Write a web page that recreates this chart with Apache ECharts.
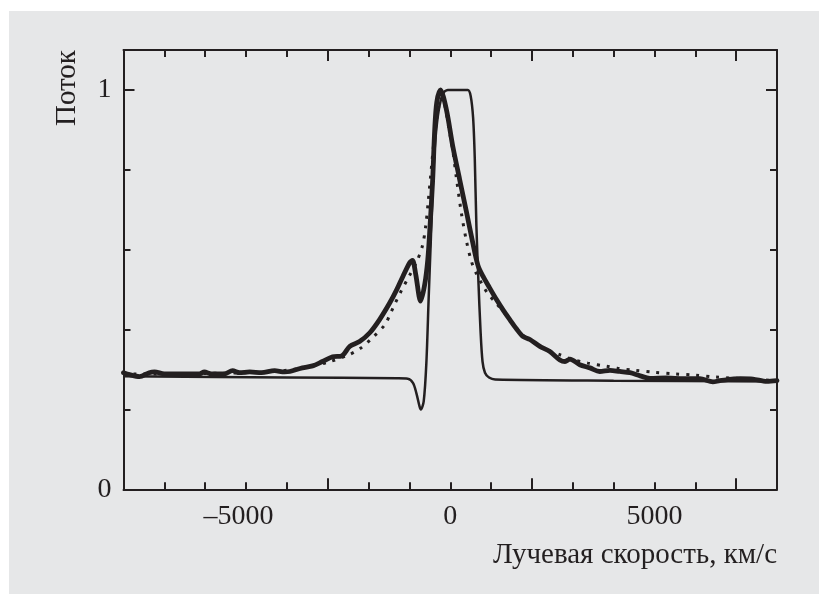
<!DOCTYPE html>
<html>
<head>
<meta charset="utf-8">
<script src="https://cdn.jsdelivr.net/npm/echarts@6/dist/echarts.min.js"></script>
<style>
  html, body { margin: 0; padding: 0; background: #ffffff; }
  #panel { position: absolute; left: 9px; top: 11px; width: 810px; height: 583px; background: #e6e7e8; }
  #chart { position: absolute; left: 0; top: 0; width: 819px; height: 594px; }
</style>
</head>
<body>
<div id="panel"></div>
<div id="chart"></div>
<script>
// Observed line profile: [radial velocity km/s, normalised flux]
const observed = [
  [-8000,0.292],[-7850,0.287],[-7610,0.282],[-7370,0.292],[-7240,0.294],[-7000,0.289],
  [-6500,0.289],[-6140,0.289],[-6020,0.294],[-5850,0.289],[-5530,0.289],[-5330,0.297],
  [-5160,0.292],[-4910,0.294],[-4620,0.292],[-4300,0.297],[-4060,0.294],[-3930,0.295],
  [-3620,0.304],[-3370,0.309],[-3130,0.320],[-2880,0.332],[-2660,0.334],[-2460,0.358],
  [-2220,0.370],[-1970,0.392],[-1730,0.425],[-1480,0.467],[-1310,0.500],[-1160,0.533],
  [-990,0.568],[-925,0.573],[-845,0.538],[-725,0.471],[-625,0.513],[-550,0.575],
  [-500,0.650],[-430,0.776],[-380,0.901],[-330,0.969],[-240,1.000],[-95,0.951],
  [60,0.860],[230,0.776],[400,0.693],[550,0.618],[680,0.560],[804,0.533],[960,0.505],
  [1132,0.475],[1300,0.448],[1458,0.425],[1620,0.402],[1777,0.383],[1950,0.375],[2194,0.358],
  [2439,0.345],[2684,0.324],[2810,0.320],[2930,0.326],[3170,0.312],[3420,0.304],
  [3660,0.295],[3910,0.298],[4150,0.295],[4400,0.292],[4650,0.284],[4890,0.278],
  [5300,0.279],[5710,0.277],[6110,0.277],[6430,0.269],[6600,0.272],[7100,0.277],
  [7410,0.276],[7750,0.270],[8000,0.272]
];

// Fitted profile (dotted)
const fitted = [
  [-8000,0.289],[-7000,0.289],[-6000,0.290],[-5000,0.292],[-4500,0.294],[-4000,0.298],
  [-3500,0.306],[-3000,0.318],[-2500,0.336],[-2200,0.353],[-1900,0.380],[-1600,0.412],
  [-1480,0.437],[-1360,0.463],[-1200,0.497],[-1000,0.535],[-820,0.570],[-680,0.610],
  [-600,0.660],[-540,0.720],[-480,0.785],[-400,0.870],[-320,0.935],[-240,0.975],
  [-180,0.980],[-120,0.955],[0,0.885],[60,0.850],[150,0.780],[275,0.690],[400,0.620],
  [520,0.570],[640,0.540],[800,0.510],[920,0.490],[1090,0.470],[1380,0.435],[1600,0.405],
  [1800,0.385],[2000,0.370],[2300,0.352],[2680,0.337],[3000,0.325],[3370,0.316],
  [3830,0.308],[4100,0.303],[4520,0.298],[5000,0.293],[5500,0.289],[6000,0.286],
  [6500,0.281],[7000,0.278],[7500,0.275],[8000,0.272]
];

// Flat-topped model profile (thin line)
const model = [
  [-8000,0.283],[-4000,0.280],[-1300,0.278],[-1040,0.277],[-910,0.266],[-830,0.241],
  [-750,0.207],[-720,0.200],[-650,0.220],[-585,0.316],[-527,0.483],[-478,0.617],
  [-420,0.780],[-360,0.880],[-280,0.950],[-180,0.990],[-60,1.000],[430,1.000],
  [500,0.985],[560,0.930],[600,0.830],[640,0.660],[690,0.520],[740,0.400],[790,0.320],
  [850,0.292],[950,0.280],[1100,0.275],[4000,0.272],[8000,0.270]
];

const xTickLabels = [-5000, 0, 5000];
const yTickLabels = [0, 1];

const ink = '#231f20';
const serif = '"Liberation Serif", "DejaVu Serif", serif';

function xLabel(v) {
  if (!xTickLabels.includes(v)) return '';
  return v < 0 ? '{neg|\u2013' + Math.abs(v) + '}' : String(v);
}
function yLabel(v) {
  return yTickLabels.some(t => Math.abs(t - v) < 1e-9) ? String(Math.round(v)) : '';
}

function xAxisDef(position, interval, tickLen, showLine, showLabel) {
  return {
    type: 'value', position: position, min: -8000, max: 8000, interval: interval,
    axisLine: { show: showLine, onZero: false, lineStyle: { color: ink, width: 2 } },
    axisTick: { show: true, inside: true, length: tickLen, lineStyle: { color: ink, width: 2 } },
    axisLabel: showLabel ? {
      show: true, formatter: xLabel, margin: 13, color: ink, fontFamily: serif, fontSize: 28,
      rich: { neg: { fontFamily: serif, fontSize: 28, color: ink, padding: [0, 15, 0, 0] } }
    } : { show: false },
    splitLine: { show: false }
  };
}
function yAxisDef(position, interval, tickLen, showLine, showLabel) {
  return {
    type: 'value', position: position, min: 0, max: 1.1, interval: interval,
    axisLine: { show: showLine, onZero: false, lineStyle: { color: ink, width: 2 } },
    axisTick: { show: true, inside: true, length: tickLen, lineStyle: { color: ink, width: 2 } },
    axisLabel: showLabel ? {
      show: true, formatter: yLabel, margin: 12, color: ink, fontFamily: serif, fontSize: 28
    } : { show: false },
    splitLine: { show: false }
  };
}

const chart = echarts.init(document.getElementById('chart'), null, { renderer: 'canvas' });
chart.setOption({
  backgroundColor: 'transparent',
  animation: false,
  grid: { left: 123.5, right: 42, top: 50, bottom: 104.7, containLabel: false },
  xAxis: [
    xAxisDef('bottom', 1000, 7, true, true),
    xAxisDef('bottom', 5000, 11, false, false),
    xAxisDef('top', 1000, 7, true, false),
    xAxisDef('top', 5000, 11, false, false)
  ],
  yAxis: [
    yAxisDef('left', 0.2, 7, true, true),
    yAxisDef('left', 1, 11, false, false),
    yAxisDef('right', 0.2, 7, true, false),
    yAxisDef('right', 1, 11, false, false)
  ],
  graphic: [
    {
      type: 'text', x: 777, y: 541,
      style: { text: 'Лучевая скорость, км/с', font: '29px ' + serif, fill: ink, align: 'right' }
    },
    {
      type: 'text', x: 53, y: 126, rotation: Math.PI / 2,
      style: { text: 'Поток', font: '29px ' + serif, fill: ink }
    }
  ],
  series: [
    {
      type: 'line', data: fitted, showSymbol: false, smooth: 0.3, z: 2,
      lineStyle: { color: ink, width: 3, type: [3, 7], cap: 'butt' }
    },
    {
      type: 'line', data: model, showSymbol: false, smooth: 0.3, z: 3,
      lineStyle: { color: ink, width: 2.5 }
    },
    {
      type: 'line', data: observed, showSymbol: false, smooth: 0.3, z: 4,
      lineStyle: { color: ink, width: 4.8, join: 'round', cap: 'round' }
    }
  ]
});
</script>
</body>
</html>
